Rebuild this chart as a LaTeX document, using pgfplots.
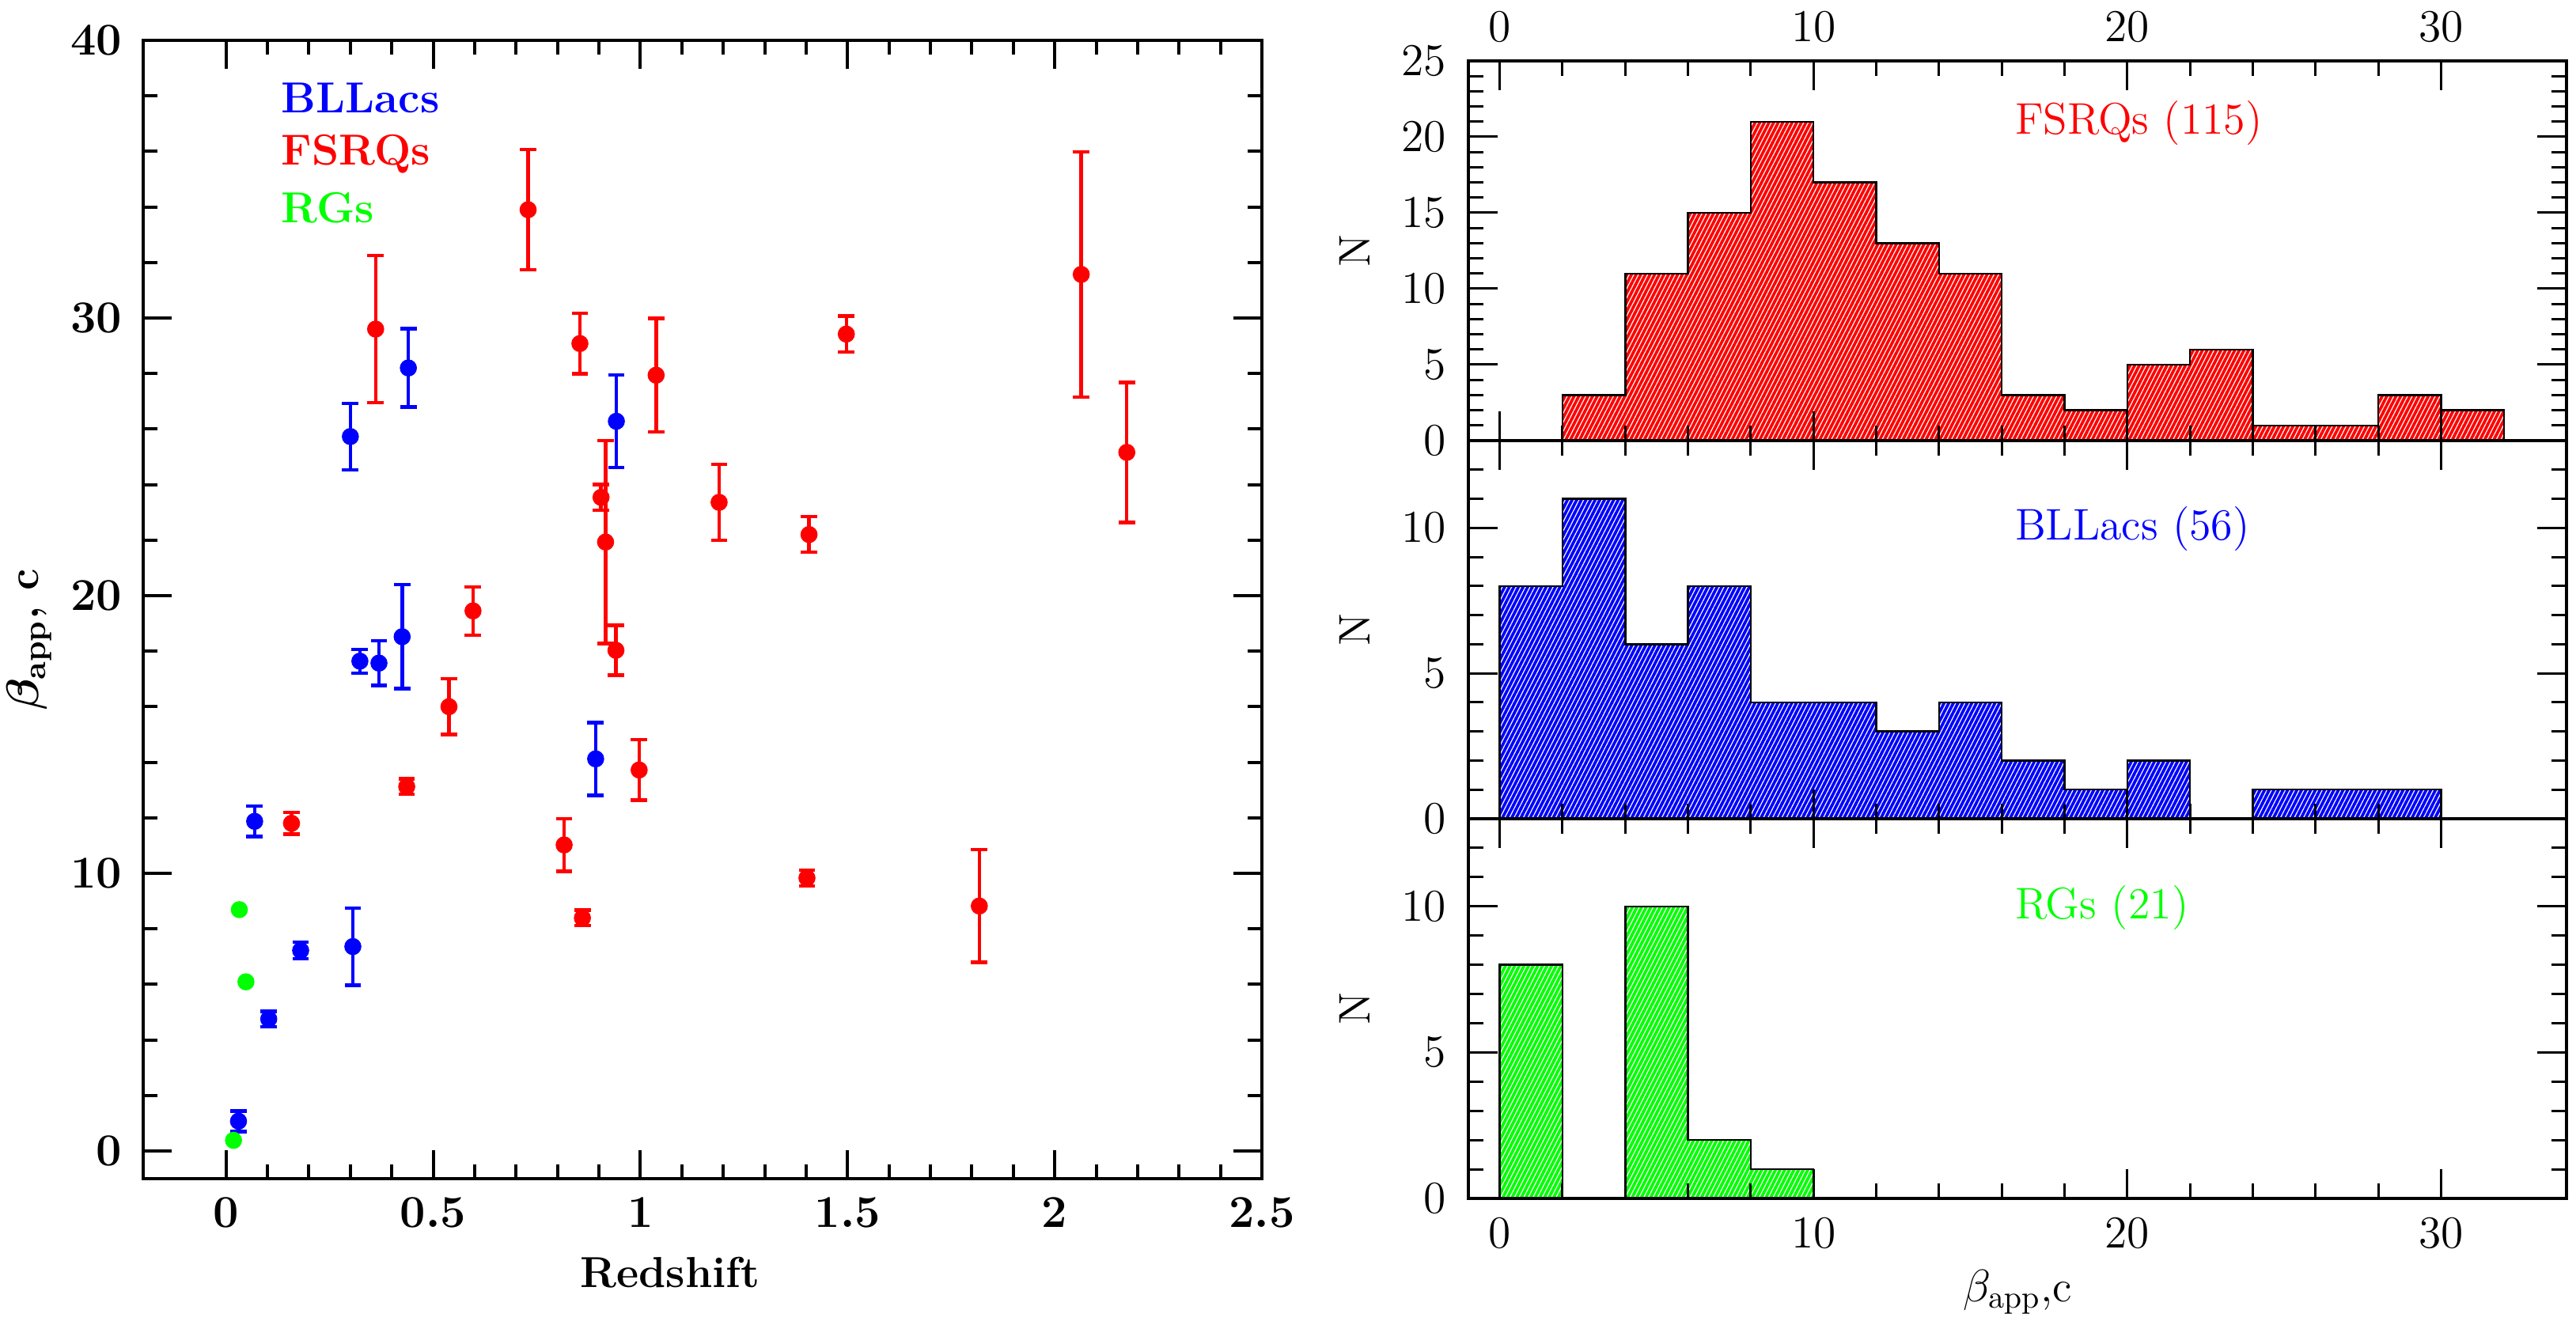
\documentclass[border=0pt]{standalone}
\usepackage{pgfplots}
\usepackage{pgfplotstable}
\pgfplotsset{compat=1.18}
\usetikzlibrary{patterns.meta}
\definecolor{cblue}{rgb}{0,0,1}
\definecolor{cred}{rgb}{1,0,0}
\definecolor{cgreen}{rgb}{0,1,0}

\pgfplotstableread{
z b e
0.158 11.80 0.39
0.361 29.60 2.65
0.436 13.12 0.28
0.538 16.00 1.00
0.596 19.45 0.87
0.729 33.90 2.17
0.816 11.02 0.95
0.854 29.08 1.09
0.860 8.39 0.28
0.905 23.54 0.46
0.916 21.93 3.65
0.941 18.03 0.90
0.997 13.72 1.09
1.038 27.94 2.05
1.190 23.36 1.37
1.402 9.83 0.28
1.407 22.20 0.64
1.497 29.42 0.65
1.818 8.82 2.03
2.064 31.57 4.42
2.174 25.16 2.52
}\fsrq

\pgfplotstableread{
z b e
0.030 1.07 0.37
0.069 11.87 0.55
0.103 4.75 0.28
0.180 7.22 0.30
0.300 25.73 1.20
0.306 7.36 1.39
0.323 17.64 0.43
0.369 17.57 0.80
0.425 18.52 1.87
0.440 28.20 1.41
0.892 14.12 1.31
0.942 26.28 1.67
}\bllac

\pgfplotstableread{
z b
0.018 0.38
0.032 8.69
0.048 6.09
}\rg

% histogram counts (left bin edge, count); last row closes the final bin
\pgfplotstableread{
x n
2 3
4 11
6 15
8 21
10 17
12 13
14 11
16 3
18 2
20 5
22 6
24 1
26 1
28 3
30 2
32 2
}\hfsrq

\pgfplotstableread{
x n
0 8
2 11
4 6
6 8
8 4
10 4
12 3
14 4
16 2
18 1
20 2
22 2
}\hblA

\pgfplotstableread{
x n
24 1
26 1
28 1
30 1
}\hblB

\pgfplotstableread{
x n
0 8
2 8
}\hrgA

\pgfplotstableread{
x n
4 10
6 2
8 1
10 1
}\hrgB

% step outlines of the same histograms
\pgfplotstableread{
x n
2 0
2 3
4 11
6 15
8 21
10 17
12 13
14 11
16 3
18 2
20 5
22 6
24 1
26 1
28 3
30 2
32 2
32 0
}\ofsrq

\pgfplotstableread{
x n
0 0
0 8
2 11
4 6
6 8
8 4
10 4
12 3
14 4
16 2
18 1
20 2
22 0
24 1
26 1
28 1
30 1
30 0
}\obl

\pgfplotstableread{
x n
0 0
0 8
2 0
4 10
6 2
8 1
10 1
10 0
}\org

\newcommand{\lfont}{\fontsize{13.7}{16}\selectfont\bfseries\boldmath}
\newcommand{\rfont}{\fontsize{14}{16}\selectfont}

\pgfplotsset{
  errstyle/.style={only marks, mark=*, mark size=2.5pt,
    error bars/.cd, y dir=both, y explicit,
    error bar style={line width=1.1pt},
    error mark=|,
    error mark options={line width=1.1pt, mark size=2.6pt}},
  hist/.style={
    scale only axis, width=347pt, xmin=-1, xmax=34, ymin=0,
    xtick={0,10,20,30}, minor x tick num=4,
    ytick distance=5, minor y tick num=4,
    tick align=inside, major tick length=9.3pt, minor tick length=4.7pt,
    every tick/.style={line width=0.75pt, black},
    axis line style={line width=0.85pt},
    axis on top,
    tick label style={font=\rfont},
    yticklabel style={xshift=-3.6pt},
    ylabel={N},
    every axis y label/.style={at={(axis description cs:-0.1037,0.5)}, anchor=center, rotate=90, font=\rfont},
  },
  hbar/.style={ybar interval, fill=#1, draw=none,
    postaction={pattern={Lines[angle=63, distance=1.3pt, line width=0.3pt]}, pattern color=white}},
  hline/.style={const plot, black, line width=0.6pt, mark=none},
}

\begin{document}
\begin{tikzpicture}
\useasboundingbox (0,0) rectangle (814pt,418.5pt);

% Left panel
\begin{axis}[
  at={(45.25pt,46pt)}, anchor=south west,
  scale only axis, width=353.5pt, height=359.75pt,
  xmin=-0.2, xmax=2.5, ymin=-1, ymax=40,
  xtick={0,0.5,1,1.5,2,2.5}, minor x tick num=4,
  ytick={0,10,20,30,40}, minor y tick num=4,
  tick align=inside, major tick length=9pt, minor tick length=4.5pt,
  every tick/.style={line width=1pt, black},
  axis line style={line width=1.1pt},
  tick label style={font=\lfont},
  xticklabel style={yshift=-2.6pt},
  yticklabel style={xshift=-3.2pt},
  xlabel={Redshift},
  every axis x label/.style={at={(axis description cs:0.471,0)}, anchor=base, yshift=-34.25pt, font=\lfont},
  ylabel={$\beta_{\mathbf{app}}$, c},
  every axis y label/.style={at={(axis description cs:-0.1018,0.474)}, anchor=center, rotate=90, font=\lfont},
]
\addplot[color=cred, errstyle] table[x=z, y=b, y error=e] {\fsrq};
\addplot[color=cblue, errstyle] table[x=z, y=b, y error=e] {\bllac};
\addplot[color=cgreen, only marks, mark=*, mark size=2.5pt] table[x=z, y=b] {\rg};
\node[anchor=base west, text=cblue, font=\lfont] at (axis cs:0.107,37.38) {BLLacs};
\node[anchor=base west, text=cred, font=\lfont] at (axis cs:0.107,35.5) {FSRQs};
\node[anchor=base west, text=cgreen, font=\lfont] at (axis cs:0.107,33.42) {RGs};
\end{axis}

% Right top: FSRQs
\begin{axis}[hist, at={(464pt,279.25pt)}, anchor=south west, height=120pt, ymax=25,
  xticklabel pos=upper, xtick pos=both, ytick pos=both,
  xticklabel style={yshift=2.6pt}]
\addplot[hbar=cred] table[x=x, y=n] {\hfsrq};
\addplot[hline] table[x=x, y=n] {\ofsrq};
\node[anchor=base west, text=cred, font=\rfont] at (axis cs:16.07,20.2) {FSRQs (115)};
\end{axis}

% Right middle: BLLacs
\begin{axis}[hist, at={(464pt,159.75pt)}, anchor=south west, height=119.5pt, ymax=13,
  xticklabels={}, xtick pos=both, ytick pos=both]
\addplot[hbar=cblue] table[x=x, y=n] {\hblA};
\addplot[hbar=cblue] table[x=x, y=n] {\hblB};
\addplot[hline] table[x=x, y=n] {\obl};
\node[anchor=base west, text=cblue, font=\rfont] at (axis cs:16.07,9.58) {BLLacs (56)};
\end{axis}

% Right bottom: RGs
\begin{axis}[hist, at={(464pt,39.75pt)}, anchor=south west, height=120pt, ymax=13,
  xtick pos=both, ytick pos=both,
  xticklabel style={yshift=-2.8pt},
  xlabel={$\beta_{\mathrm{app}}$,c},
  every axis x label/.style={at={(axis description cs:0.5,0)}, anchor=base, yshift=-32.5pt, font=\rfont}]
\addplot[hbar=cgreen] table[x=x, y=n] {\hrgA};
\addplot[hbar=cgreen] table[x=x, y=n] {\hrgB};
\addplot[hline] table[x=x, y=n] {\org};
\node[anchor=base west, text=cgreen, font=\rfont] at (axis cs:16.07,9.58) {RGs (21)};
\end{axis}
\end{tikzpicture}
\end{document}
